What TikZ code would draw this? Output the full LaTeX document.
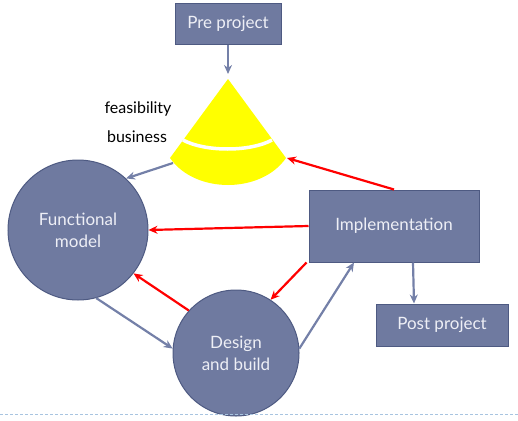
\documentclass[tikz,border=0pt]{standalone}
\usepackage{fontspec}
\setmainfont{Lato}
\usetikzlibrary{arrows.meta}
\definecolor{boxfill}{HTML}{6F7AA0}
\definecolor{boxline}{HTML}{4E5A82}
\definecolor{arrgrey}{HTML}{7480A8}
\definecolor{txtlight}{HTML}{EEEFF6}
\definecolor{fanyellow}{HTML}{FFFF00}
\definecolor{dashblue}{HTML}{A8C4E0}
\begin{document}
\begin{tikzpicture}[x=1pt,y=-1pt,
  boxnode/.style={draw=boxline,line width=1pt,fill=boxfill,text=txtlight,font=\fontsize{17}{19}\selectfont,inner sep=0pt},
  circnode/.style={circle,draw=boxline,line width=1pt,fill=boxfill,text=txtlight,font=\fontsize{17}{22}\selectfont,align=center,inner sep=0pt},
  greyarrow/.style={draw=arrgrey,line width=2.2pt,-{Stealth[length=9pt,width=8pt]}},
  redarrow/.style={draw=red,line width=2.2pt,-{Stealth[length=9pt,width=8pt]}},
  lbl/.style={font=\fontsize{16}{18}\selectfont,text=black}]
\useasboundingbox (0,0) rectangle (518,420);
% nodes
\node[boxnode,minimum width=106pt,minimum height=41pt] (pre) at (228,24) {Pre project};
\node[boxnode,minimum width=170pt,minimum height=72pt] (impl) at (394,226) {Implementation};
\node[boxnode,minimum width=132pt,minimum height=42pt] (post) at (442,325) {Post project};
\node[circnode,minimum size=140pt] (func) at (78,230) {Functional\\model};
\node[circnode,minimum size=126pt] (design) at (236,353) {Design\\and build};
% fan
\coordinate (apex) at (228,79);
\coordinate (fanL) at (170,158);
\coordinate (fanR) at (286,158);
\fill[fanyellow] (apex) -- (fanL) .. controls (195,194) and (261,194) .. (fanR) -- cycle;
\draw[white,line width=3.5pt] (183,140) .. controls (205,152) and (250,152) .. (272,140);
\node[lbl] (feas) at (138,109) {feasibility};
\node[lbl] (bus) at (137,137) {business};
% anchor coordinates
\coordinate (fanout) at (173,163);
\coordinate (fanin) at (287,158);
% arrows
\draw[greyarrow] (pre.south) -- (228,74);
\draw[greyarrow] (fanout) -- (func.47);
\draw[redarrow] (impl.north) -- (fanin);
\draw[redarrow] (impl.west) -- (func.east);
\draw[redarrow] (impl.south west) ++(-2,0) -- (design.57);
\draw[redarrow] (design.138) -- (func.-38);
\draw[greyarrow] (func.-75) -- (design.176);
\draw[greyarrow] (design.4) -- ([xshift=-40pt]impl.south);
\draw[greyarrow] ([xshift=19pt]impl.south) -- ([xshift=-28pt]post.north);
% bottom dashed line
\draw[dashblue,line width=0.8pt,dash pattern=on 3pt off 2pt] (0,414) -- (518,414);
\end{tikzpicture}
\end{document}
